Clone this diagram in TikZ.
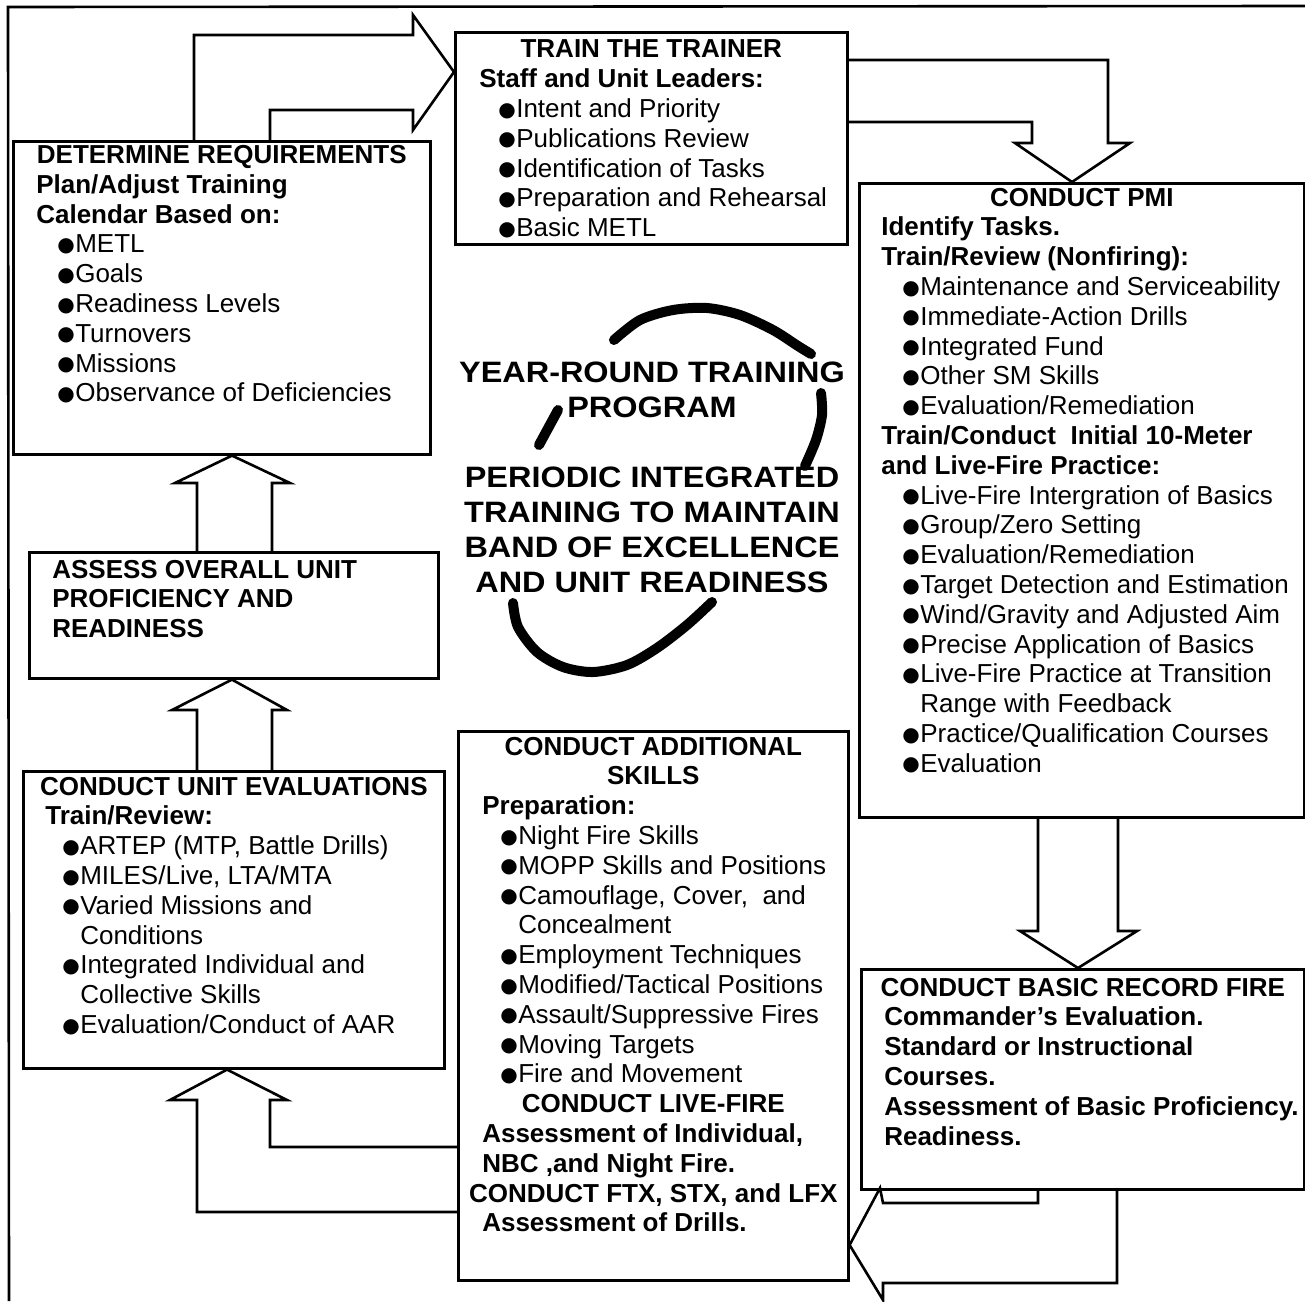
\documentclass[tikz,border=0pt]{standalone}
\usepackage{fontspec}
\setmainfont{Liberation Sans}
\newfontfamily\symfont{DejaVu Sans}
\newfontfamily\bannerfont[FakeStretch=1.1]{Liberation Sans}

\newlength\lmar
\newlength\imar
\newcommand\blt{\makebox[18pt][l]{\raisebox{1.5pt}{\symfont\fontsize{20}{20}\selectfont ●}}}
\newcommand\hdr[1]{\par\noindent\makebox[\linewidth]{\strut\bfseries #1}}
\newcommand\bld[1]{\par\noindent\hspace*{\lmar}\strut\textbf{#1}}
\newcommand\itm[1]{\par\noindent\hspace*{\imar}\strut\blt#1}
\newcommand\cnt[1]{\par\noindent\hspace*{\imar}\hspace*{18pt}\strut#1}
% width, height, top gap, left margin, bullet indent, lines
\newcommand\panel[6]{\parbox[t][#2pt][t]{#1pt}{\setlength\lmar{#4pt}\setlength\imar{#5pt}\vspace*{#3pt}#6}}

\begin{document}
\begin{tikzpicture}[x=1pt, y=-1pt, line join=miter,
	panel/.style = {draw=black, line width=2.6pt, anchor=north west, inner sep=0pt,
		font=\fontsize{26}{29.8}\selectfont},
	blockarrow/.style = {draw=black, line width=2.6pt},
	banner/.style = {inner sep=0pt, anchor=north, align=center,
		font=\bannerfont\bfseries\fontsize{29.5}{35}\selectfont},
	ring/.style = {line width=10pt, line cap=round}]
	\useasboundingbox (0,0) rectangle (1305,1301);
	
	% outer frame (cut off at right and bottom)
	\draw[line width=2.6pt] (9,1301) -- (8,7) -- (1305,6);
	
	% left column
	\node[panel] (dr) at (12,140) {\panel{417}{313}{1.4}{23}{44}{%
		\hdr{DETERMINE REQUIREMENTS}
		\bld{Plan/Adjust Training}
		\bld{Calendar Based on:}
		\itm{METL}
		\itm{Goals}
		\itm{Readiness Levels}
		\itm{Turnovers}
		\itm{Missions}
		\itm{Observance of Deficiencies}}};
	\node[panel] (as) at (28,551) {\panel{409}{126}{5}{23}{0}{%
		\bld{ASSESS OVERALL UNIT}
		\bld{PROFICIENCY AND}
		\bld{READINESS}}};
	\node[panel] (cue) at (22,770) {\panel{421}{297}{3}{22}{39}{%
		\hdr{CONDUCT UNIT EVALUATIONS}
		\bld{Train/Review:}
		\itm{ARTEP (MTP, Battle Drills)}
		\itm{MILES/Live, LTA/MTA}
		\itm{Varied Missions and}
		\cnt{Conditions}
		\itm{Integrated Individual and}
		\cnt{Collective Skills}
		\itm{Evaluation/Conduct of AAR}}};
	
	% middle column
	\node[panel] (ttt) at (454,31) {\panel{392}{212}{4.8}{24}{43}{%
		\hdr{TRAIN THE TRAINER}
		\bld{Staff and Unit Leaders:}
		\itm{Intent and Priority}
		\itm{Publications Review}
		\itm{Identification of Tasks}
		\itm{Preparation and Rehearsal}
		\itm{Basic METL}}};
	\node[panel] (cas) at (457,730) {\panel{390}{549}{3}{24}{42}{%
		\hdr{CONDUCT ADDITIONAL}
		\hdr{SKILLS}
		\bld{Preparation:}
		\itm{Night Fire Skills}
		\itm{MOPP Skills and Positions}
		\itm{Camouflage, Cover, \ and}
		\cnt{Concealment}
		\itm{Employment Techniques}
		\itm{Modified/Tactical Positions}
		\itm{Assault/Suppressive Fires}
		\itm{Moving Targets}
		\itm{Fire and Movement}
		\hdr{CONDUCT LIVE-FIRE}
		\bld{Assessment of Individual,}
		\bld{NBC ,and Night Fire.}
		\hdr{CONDUCT FTX, STX, and LFX}
		\bld{Assessment of Drills.}}};
	
	% right column
	\node[panel] (cpmi) at (858,182) {\panel{445}{634}{2}{22}{43}{%
		\hdr{CONDUCT PMI}
		\bld{Identify Tasks.}
		\bld{Train/Review (Nonfiring):}
		\itm{Maintenance and Serviceability}
		\itm{Immediate-Action Drills}
		\itm{Integrated Fund}
		\itm{Other SM Skills}
		\itm{Evaluation/Remediation}
		\bld{Train/Conduct \ Initial 10-Meter}
		\bld{and Live-Fire Practice:}
		\itm{Live-Fire Intergration of Basics}
		\itm{Group/Zero Setting}
		\itm{Evaluation/Remediation}
		\itm{Target Detection and Estimation}
		\itm{Wind/Gravity and Adjusted Aim}
		\itm{Precise Application of Basics}
		\itm{Live-Fire Practice at Transition}
		\cnt{Range with Feedback}
		\itm{Practice/Qualification Courses}
		\itm{Evaluation}}};
	\node[panel] (cbrf) at (860,968) {\panel{443}{220}{6}{23}{0}{%
		\hdr{CONDUCT BASIC RECORD FIRE}
		\bld{Commander's Evaluation.}
		\bld{Standard or Instructional}
		\bld{Courses.}
		\bld{Assessment of Basic Proficiency.}
		\bld{Readiness.}}};
	
	% centre: program title inside the broken ring
	\node[banner] (title) at (652,362) {YEAR-ROUND TRAINING\\PROGRAM};
	\node[banner] (subtitle) at (652,467) {PERIODIC INTEGRATED\\TRAINING TO MAINTAIN\\BAND OF EXCELLENCE\\AND UNIT READINESS};
	\draw[ring] plot[smooth] coordinates {(614,340) (640,320) (673,310) (707,308) (740,315) (773,330) (798,346) (811,354)};
	\draw[ring] plot[smooth] coordinates {(821,393) (822,415) (816,440) (805,466)};
	\draw[ring] (558,410) -- (539,445);
	\draw[ring] plot[smooth] coordinates {(513,603) (518,627) (537,652) (563,667) (593,672) (627,665) (657,648) (687,625) (712,602)};
	
	% block arrows between the panels
	\draw[blockarrow] (dr.north -| 194,0) |- (413,35) -- (413,15) -- (ttt.west |- 0,72)
		-- (413,130) -- (413,110) -| (dr.north -| 270,0);
	\draw[blockarrow] (ttt.east |- 0,60) -| (1108,143) -- (1130,143) -- (cpmi.north -| 1072,0)
		-- (1015,143) -- (1032,143) |- (ttt.east |- 0,122);
	\draw[blockarrow] (cpmi.south -| 1038,0) -- (1038,931) -- (1020,931) -- (cbrf.north -| 1078,0)
		-- (1137,931) -- (1118,931) -- (cpmi.south -| 1118,0);
	\draw[blockarrow] (cbrf.south -| 1038,0) |- (883,1203) -- (880,1188) -- (cas.east |- 0,1245)
		-- (883,1300) -- (883,1283) -| (cbrf.south -| 1117,0);
	\draw[blockarrow] (cas.west |- 0,1147) -| (270,1100) -- (287,1100) -- (cue.south -| 227,0)
		-- (170,1100) -- (197,1100) |- (cas.west |- 0,1212);
	\draw[blockarrow] (cue.north -| 197,0) -- (197,710) -- (172,710) -- (as.south -| 232,0)
		-- (287,710) -- (272,710) -- (cue.north -| 272,0);
	\draw[blockarrow] (as.north -| 197,0) -- (197,483) -- (175,483) -- (dr.south -| 232,0)
		-- (290,483) -- (272,483) -- (as.north -| 272,0);
\end{tikzpicture}
\end{document}
